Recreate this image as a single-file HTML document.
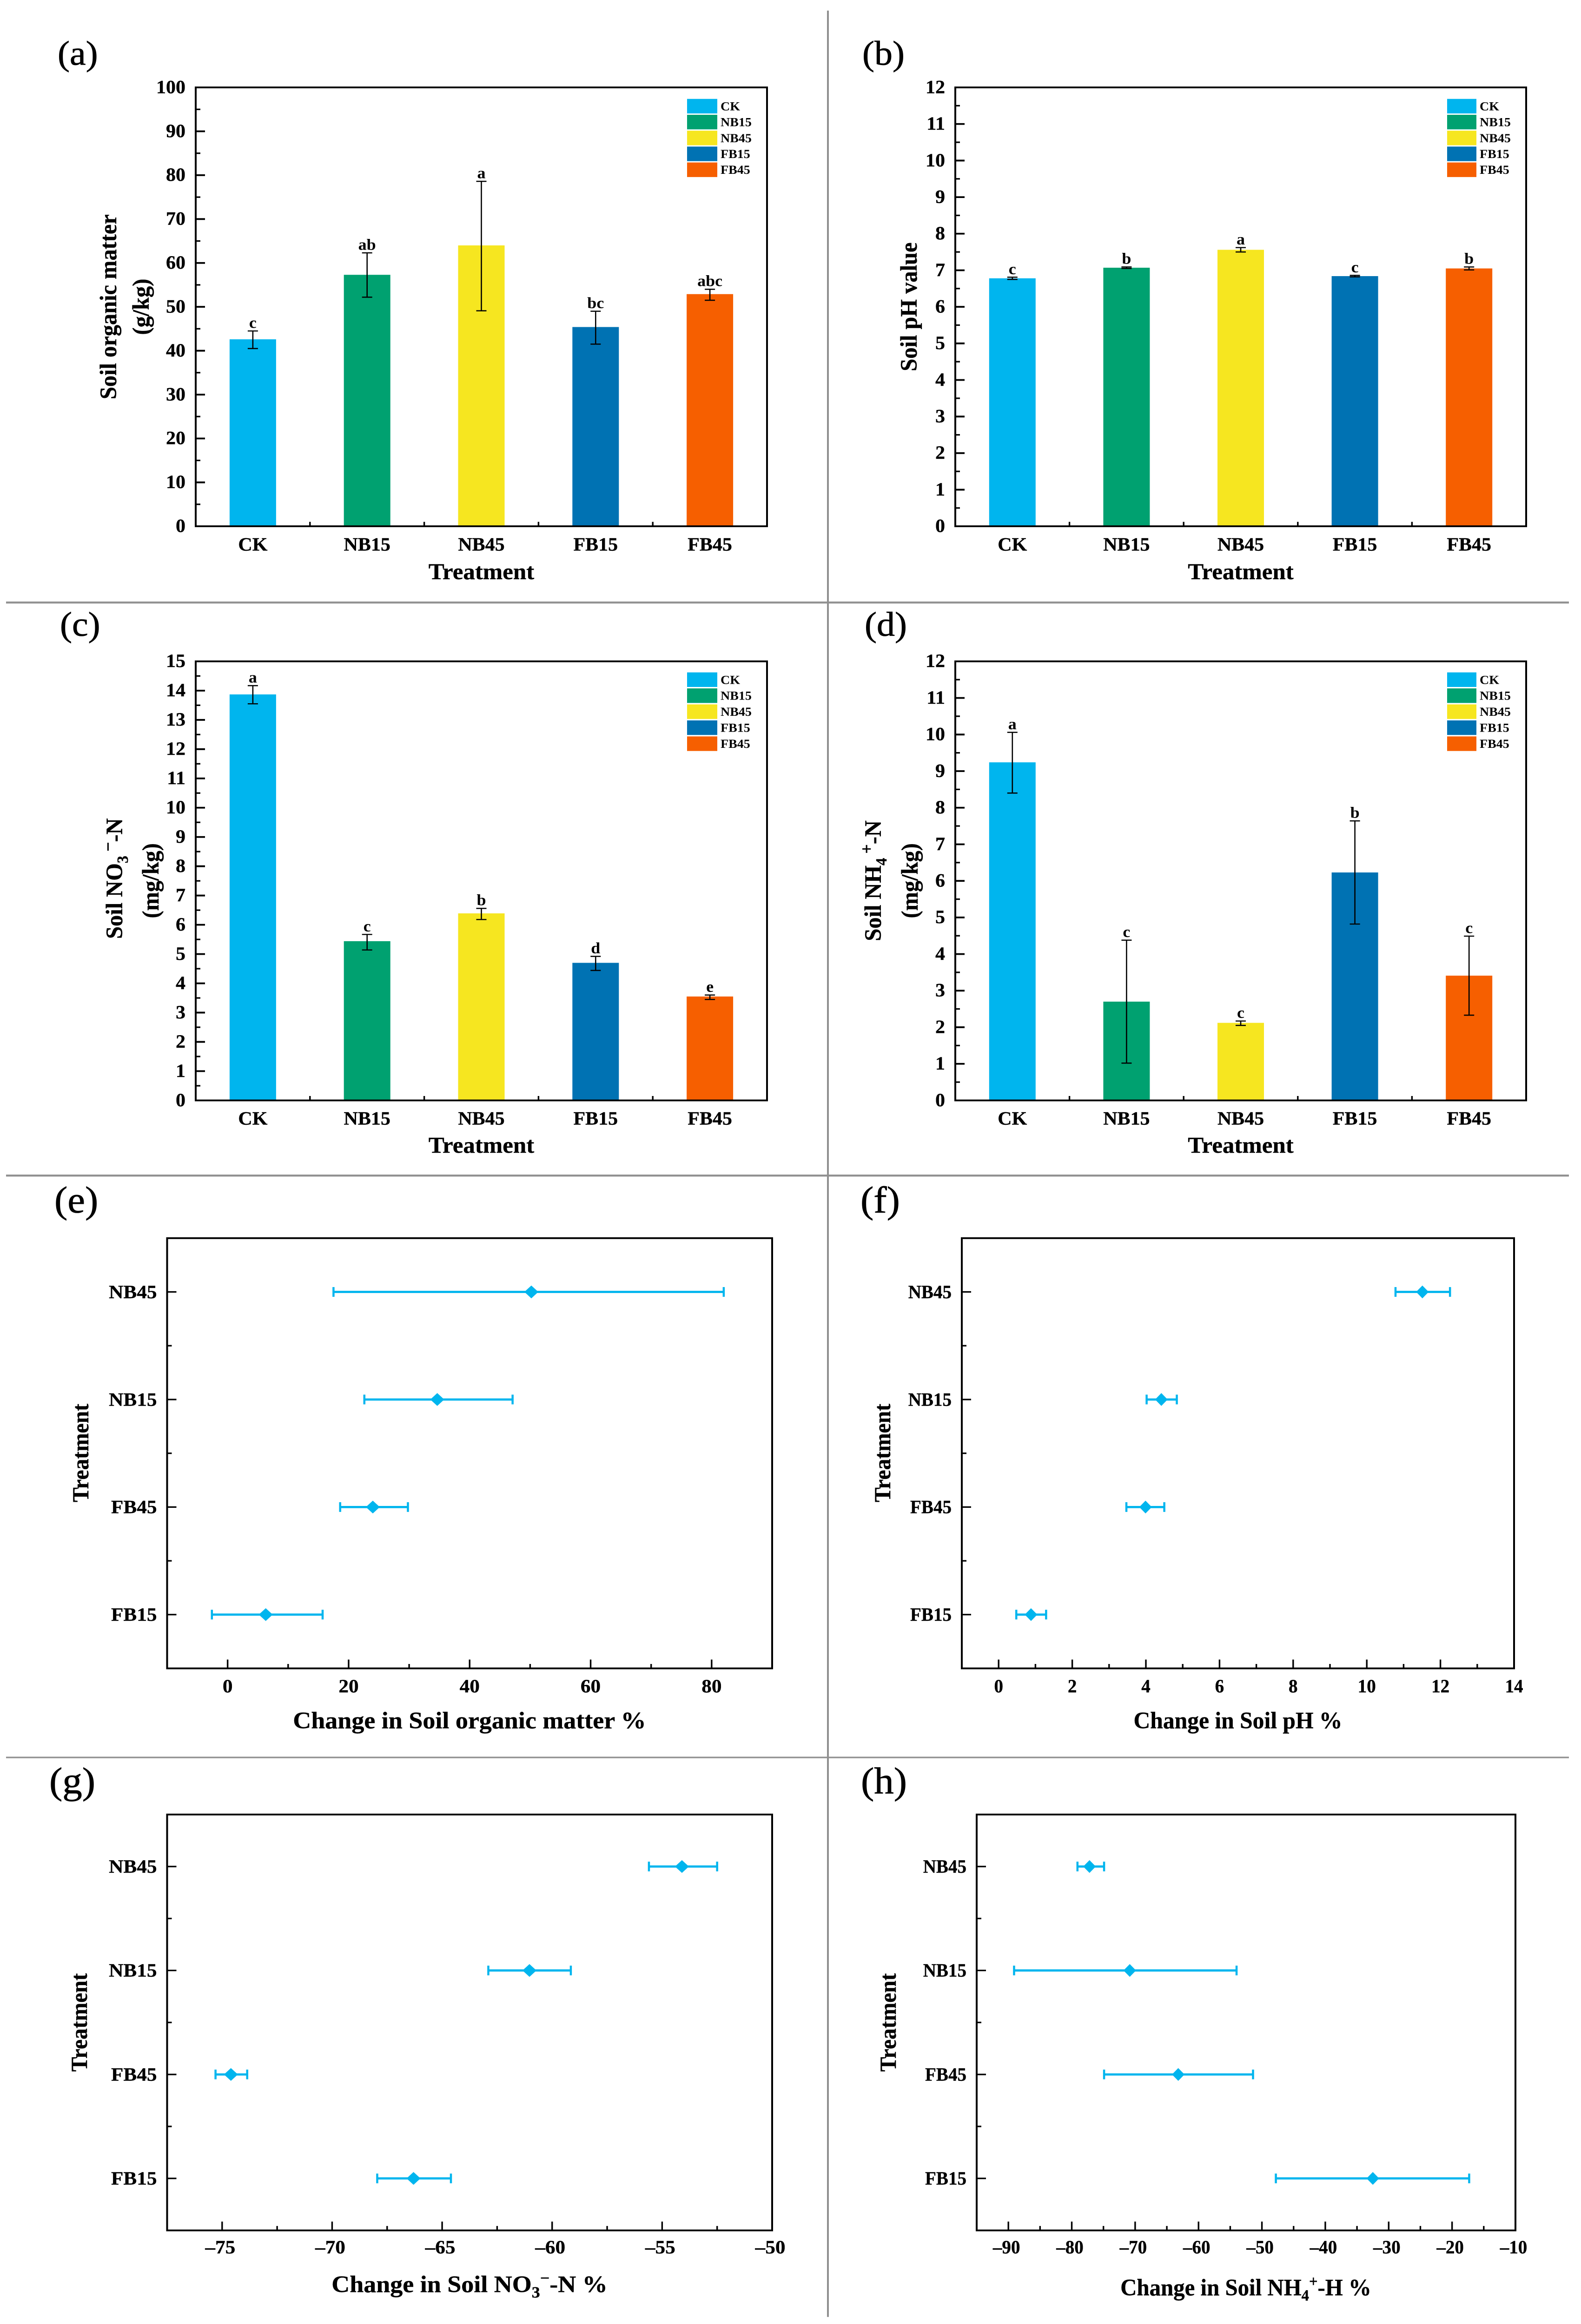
<!DOCTYPE html>
<html lang="en">
<head>
<meta charset="utf-8">
<title>Soil property charts</title>
<style>
html,body{margin:0;padding:0;background:#fff;width:100%;height:100%;overflow:hidden;}
svg{display:block;width:100vw;height:100vh;}
text{font-family:"Liberation Serif",serif;fill:#000;}
.panel-letter{font-size:78px;font-weight:400;stroke:#000;stroke-width:.8px;}
.panel-letter.big{font-size:85px;}
.axis-title{font-size:51px;font-weight:700;stroke:#000;stroke-width:.4px;}
.change-title{font-size:54px;font-weight:700;stroke:#000;stroke-width:.4px;}
.tick-label{font-size:42px;font-weight:700;stroke:#000;stroke-width:.4px;}
.legend-label{font-size:28px;font-weight:700;}
.sig-label{font-size:36px;font-weight:700;}
</style>
</head>
<body>
<svg id="figure" xmlns="http://www.w3.org/2000/svg" viewBox="0 0 3401 5264" preserveAspectRatio="none">
  <rect x="0" y="0" width="3401" height="5264" fill="#ffffff"/>
  <rect x="1779" y="24" width="4" height="5224" fill="#909090"/>
  <rect x="13" y="1362.5" width="3362" height="4.5" fill="#909090"/>
  <rect x="13" y="2660.5" width="3362" height="4.5" fill="#909090"/>
  <rect x="13" y="3979" width="3362" height="3.5" fill="#909090"/>

  <text class="panel-letter" x="124" y="147">(a)</text>
  <text class="panel-letter" x="1855" y="147">(b)</text>
  <text class="panel-letter" x="129" y="1440">(c)</text>
  <text class="panel-letter" x="1860" y="1440">(d)</text>
  <text class="panel-letter big" x="117" y="2746">(e)</text>
  <text class="panel-letter big" x="1851" y="2746">(f)</text>
  <text class="panel-letter big" x="106" y="4062">(g)</text>
  <text class="panel-letter big" x="1852" y="4062">(h)</text>

  <text class="axis-title" text-anchor="middle" transform="translate(250 695) rotate(-90)">Soil organic matter</text>
  <text class="axis-title" text-anchor="middle" transform="translate(320 695) rotate(-90)">(g/kg)</text>
  <text class="axis-title" text-anchor="middle" x="1035.5" y="1312">Treatment</text>

  <text class="axis-title" text-anchor="middle" transform="translate(1972 695) rotate(-90)">Soil pH value</text>
  <text class="axis-title" text-anchor="middle" x="2669" y="1312">Treatment</text>

  <text class="axis-title" text-anchor="middle" transform="translate(263 1990) rotate(-90)">Soil NO<tspan dy="12" font-size="34">3</tspan><tspan dy="-30" font-size="38"> −</tspan><tspan dy="18">-N</tspan></text>
  <text class="axis-title" text-anchor="middle" transform="translate(341 1995) rotate(-90)">(mg/kg)</text>
  <text class="axis-title" text-anchor="middle" x="1035.5" y="2611">Treatment</text>

  <text class="axis-title" text-anchor="middle" transform="translate(1895 1995) rotate(-90)">Soil NH<tspan dy="12" font-size="34">4</tspan><tspan dy="-30" font-size="38"> +</tspan><tspan dy="18">-N</tspan></text>
  <text class="axis-title" text-anchor="middle" transform="translate(1974 1995) rotate(-90)">(mg/kg)</text>
  <text class="axis-title" text-anchor="middle" x="2669" y="2611">Treatment</text>

  <text class="axis-title" style="font-size:50px" text-anchor="middle" transform="translate(190 3291) rotate(-90)">Treatment</text>
  <text class="change-title" text-anchor="middle" x="1010" y="3915">Change in Soil organic matter %</text>

  <text class="axis-title" style="font-size:50px" text-anchor="middle" transform="translate(1915 3291) rotate(-90)">Treatment</text>
  <text class="change-title" text-anchor="middle" x="2663" y="3915" textLength="449" lengthAdjust="spacingAndGlyphs">Change in Soil pH %</text>

  <text class="axis-title" style="font-size:50px" text-anchor="middle" transform="translate(187 4581) rotate(-90)">Treatment</text>
  <text class="change-title" text-anchor="middle" x="1010" y="5192">Change in Soil NO<tspan dy="12" font-size="36">3</tspan><tspan dy="-32" font-size="36">−</tspan><tspan dy="20">-N %</tspan></text>

  <text class="axis-title" style="font-size:50px" text-anchor="middle" transform="translate(1927 4581) rotate(-90)">Treatment</text>
  <text class="change-title" text-anchor="middle" transform="translate(2680 5199) scale(0.905 1)">Change in Soil NH<tspan dy="12" font-size="36">4</tspan><tspan dy="-32" font-size="36">+</tspan><tspan dy="20">-H %</tspan></text>
</svg>
<script>
// Shared categories and colours
const barCategories = ['CK', 'NB15', 'NB45', 'FB15', 'FB45'];
const barColors = ['#00b5ee', '#00a170', '#f6e620', '#0072b3', '#f65f00'];
const forestCategories = ['FB15', 'FB45', 'NB15', 'NB45'];

// Panel a: soil organic matter
const aTicks = [0, 10, 20, 30, 40, 50, 60, 70, 80, 90, 100];
const aValues = [42.6, 57.3, 64.0, 45.4, 52.9];
const aHigh = [44.5, 62.3, 78.6, 49.0, 54.0];
const aLow = [40.5, 52.2, 49.1, 41.5, 51.5];
const aLetters = ['c', 'ab', 'a', 'bc', 'abc'];

// Panel b: soil pH
const bTicks = [0, 1, 2, 3, 4, 5, 6, 7, 8, 9, 10, 11, 12];
const bValues = [6.78, 7.07, 7.56, 6.84, 7.05];
const bHigh = [6.81, 7.09, 7.62, 6.86, 7.09];
const bLow = [6.75, 7.05, 7.50, 6.82, 7.01];
const bLetters = ['c', 'b', 'a', 'c', 'b'];

// Panel c: soil nitrate
const cTicks = [0, 1, 2, 3, 4, 5, 6, 7, 8, 9, 10, 11, 12, 13, 14, 15];
const cValues = [13.87, 5.44, 6.39, 4.70, 3.55];
const cHigh = [14.17, 5.67, 6.56, 4.92, 3.60];
const cLow = [13.55, 5.14, 6.18, 4.44, 3.45];
const cLetters = ['a', 'c', 'b', 'd', 'e'];

// Panel d: soil ammonium
const dTicks = [0, 1, 2, 3, 4, 5, 6, 7, 8, 9, 10, 11, 12];
const dValues = [9.24, 2.70, 2.12, 6.23, 3.41];
const dHigh = [10.06, 4.38, 2.17, 7.64, 4.49];
const dLow = [8.40, 1.02, 2.05, 4.82, 2.33];
const dLetters = ['a', 'c', 'c', 'b', 'c'];

// Panel e: change in organic matter (order matches forestCategories)
const eTicks = [0, 20, 40, 60, 80];
const eValues = [6.3, 24.0, 34.65, 50.2];
const eLow = [-2.6, 18.6, 22.6, 17.5];
const eHigh = [15.7, 29.8, 47.1, 82.0];

// Panel f: change in pH
const fTicks = [0, 2, 4, 6, 8, 10, 12, 14];
const fValues = [0.88, 3.99, 4.42, 11.51];
const fLow = [0.48, 3.47, 4.02, 10.78];
const fHigh = [1.29, 4.50, 4.84, 12.26];

// Panel g: change in nitrate
const gTicks = [-75, -70, -65, -60, -55, -50];
const gValues = [-66.3, -74.6, -61.03, -54.1];
const gLow = [-67.95, -75.3, -62.9, -55.6];
const gHigh = [-64.6, -73.86, -59.15, -52.5];

// Panel h: change in ammonium
const hTicks = [-90, -80, -70, -60, -50, -40, -30, -20, -10];
const hValues = [-32.5, -63.2, -70.85, -77.2];
const hLow = [-47.8, -74.9, -89.1, -79.1];
const hHigh = [-17.3, -51.4, -54.0, -74.9];

const NS = 'http://www.w3.org/2000/svg';
const figure = document.getElementById('figure');

function mk(tag, attrs, parent) {
  const el = document.createElementNS(NS, tag);
  for (const k in attrs) el.setAttribute(k, attrs[k]);
  parent.appendChild(el);
  return el;
}

function line(parent, x1, y1, x2, y2, stroke, width) {
  return mk('line', {x1: x1, y1: y1, x2: x2, y2: y2, stroke: stroke, 'stroke-width': width}, parent);
}

function label(parent, x, y, txt, cls, anchor, sx) {
  const attrs = {class: cls, 'text-anchor': anchor};
  if (sx) {
    attrs.transform = 'translate(' + x + ' ' + y + ') scale(' + sx + ' 1)';
  } else {
    attrs.x = x;
    attrs.y = y;
  }
  const t = mk('text', attrs, parent);
  t.textContent = txt;
  return t;
}

function frame(g, p) {
  const r = mk('rect', {x: p.L, y: p.T, width: p.R - p.L, height: p.B - p.T, fill: 'none', stroke: '#000', 'stroke-width': 4}, g);
  
  
}

function drawBarPanel(p, ticks, values, high, low, letters) {
  const g = mk('g', {}, figure);
  
  
  const yMax = ticks[ticks.length - 1];
  const yScale = v => p.B - (v / yMax) * (p.B - p.T);
  const band = (p.R - p.L) / barCategories.length;
  const xCenter = i => p.L + band * (i + 0.5);

  barCategories.forEach((cat, i) => {
    const bar = mk('rect', {x: xCenter(i) - 50, y: yScale(values[i]), width: 100, height: p.B - yScale(values[i]), fill: barColors[i]}, g);
    
    

    const stem = line(g, xCenter(i), yScale(high[i]), xCenter(i), yScale(low[i]), '#000', 2.6);
    
    
    const capTop = line(g, xCenter(i) - 11, yScale(high[i]), xCenter(i) + 11, yScale(high[i]), '#000', 2.6);
    
    
    const capLow = line(g, xCenter(i) - 11, yScale(low[i]), xCenter(i) + 11, yScale(low[i]), '#000', 2.6);
    
    

    const sig = label(g, xCenter(i), yScale(high[i]) - 7, letters[i], 'sig-label', 'middle');
    
    

    const xLabel = label(g, xCenter(i), p.B + 55, cat, 'tick-label', 'middle');
    
    

    if (i > 0) {
      const xTick = line(g, p.L + band * i, p.B, p.L + band * i, p.B - 10, '#000', 3.4);
      
      
    }

    const swatch = mk('rect', {x: p.legX, y: p.legY + i * p.legStep, width: p.legW, height: 33, fill: barColors[i]}, g);
    
    
    const legText = label(g, p.legX + p.legW + 7, p.legY + i * p.legStep + 26, cat, 'legend-label', 'start');
    
    
  });

  ticks.forEach((t, i) => {
    if (i > 0 && i < ticks.length - 1) {
      const major = line(g, p.L, yScale(t), p.L + 20, yScale(t), '#000', 4);
      
      
    }
    if (i < ticks.length - 1) {
      const mid = (t + ticks[i + 1]) / 2;
      const minor = line(g, p.L, yScale(mid), p.L + 10, yScale(mid), '#000', 3.4);
      
      
    }
    const yLabel = label(g, p.L - 22, yScale(t) + 13, String(t), 'tick-label', 'end');
    
    
  });
  frame(g, p);
}

function drawForestPanel(p, ticks, values, low, high) {
  const g = mk('g', {}, figure);
  
  
  const xScale = v => p.L + (v - p.xMin) / (p.xMax - p.xMin) * (p.R - p.L);
  const n = forestCategories.length;
  const yScale = i => p.B - (i + 0.5) / n * (p.B - p.T);
  const color = '#00b5ee';

  forestCategories.forEach((cat, i) => {
    const y = yScale(i);
    const yTick = line(g, p.L, y, p.L + 20, y, '#000', 3.4);
    
    
    if (i < n - 1) {
      const yMinor = line(g, p.L, (y + yScale(i + 1)) / 2, p.L + 10, (y + yScale(i + 1)) / 2, '#000', 3.4);
      
      
    }
    const yLabel = label(g, p.L - 22, y + 14, cat, 'tick-label', 'end', p.sx);
    
    

    const whisker = line(g, xScale(low[i]), y, xScale(high[i]), y, color, 5);
    
    
    const capLow = line(g, xScale(low[i]), y - 11, xScale(low[i]), y + 11, color, 4.5);
    
    
    const capHigh = line(g, xScale(high[i]), y - 11, xScale(high[i]), y + 11, color, 4.5);
    
    

    const cx = xScale(values[i]);
    const dw = p.diamondHalfWidth;
    const dh = 14.5;
    const diamond = mk('polygon', {points: (cx - dw) + ',' + y + ' ' + cx + ',' + (y - dh) + ' ' + (cx + dw) + ',' + y + ' ' + cx + ',' + (y + dh), fill: color}, g);
    
    
  });

  ticks.forEach((t, i) => {
    const xT = xScale(t);
    if (t < p.xMax) {
      const major = line(g, xT, p.B, xT, p.B - 20, '#000', 3.4);
      
      
    }
    const tickText = (t < 0 ? '–' + Math.abs(t) : String(t));
    const xLabel = label(g, xT - (t < 0 ? 4 : 0), p.B + p.tickDy, tickText, 'tick-label', 'middle', p.sx);
    
    
    if (i < ticks.length - 1) {
      const mid = (t + ticks[i + 1]) / 2;
      const minor = line(g, xScale(mid), p.B, xScale(mid), p.B - 10, '#000', 3.4);
      
      
    }
  });
  frame(g, p);
}

drawBarPanel({id: 'a', L: 421, R: 1650, T: 198, B: 1192, legX: 1478, legY: 224, legStep: 36, legW: 65}, aTicks, aValues, aHigh, aLow, aLetters);
drawBarPanel({id: 'b', L: 2055, R: 3283, T: 198, B: 1192, legX: 3113, legY: 224, legStep: 36, legW: 63}, bTicks, bValues, bHigh, bLow, bLetters);
drawBarPanel({id: 'c', L: 421, R: 1650, T: 1498, B: 2492.5, legX: 1478, legY: 1523, legStep: 36.25, legW: 65}, cTicks, cValues, cHigh, cLow, cLetters);
drawBarPanel({id: 'd', L: 2055, R: 3283, T: 1498, B: 2492.5, legX: 3113, legY: 1523, legStep: 36.25, legW: 63}, dTicks, dValues, dHigh, dLow, dLetters);

drawForestPanel({id: 'e', L: 359.5, R: 1661, T: 2804.5, B: 3779, xMin: -10, xMax: 90, tickDy: 54, sx: 1.03, diamondHalfWidth: 15}, eTicks, eValues, eLow, eHigh);
drawForestPanel({id: 'f', L: 2069, R: 3257, T: 2804.5, B: 3779, xMin: -1, xMax: 14, tickDy: 54, sx: 0.93, diamondHalfWidth: 13.5}, fTicks, fValues, fLow, fHigh);
drawForestPanel({id: 'g', L: 359.5, R: 1661, T: 4110, B: 5052, xMin: -77.5, xMax: -50, tickDy: 52, sx: 1.03, diamondHalfWidth: 15}, gTicks, gValues, gLow, gHigh);
drawForestPanel({id: 'h', L: 2101, R: 3260, T: 4110, B: 5052, xMin: -95, xMax: -10, tickDy: 52, sx: 0.93, diamondHalfWidth: 13.5}, hTicks, hValues, hLow, hHigh);
</script>
</body>
</html>
